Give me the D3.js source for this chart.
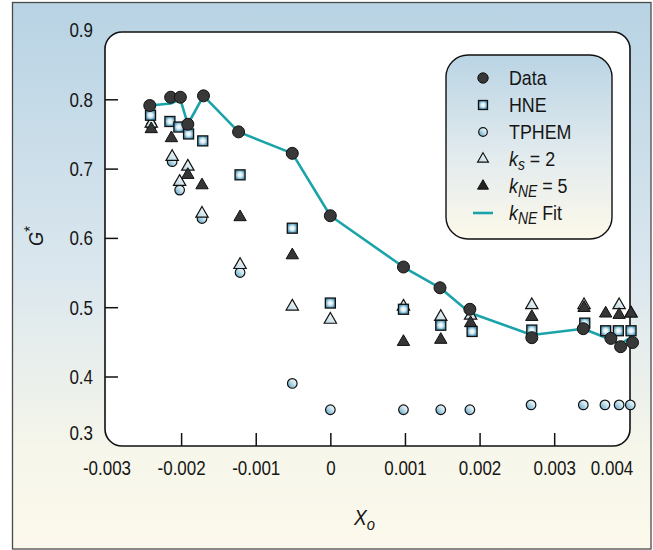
<!DOCTYPE html>
<html>
<head>
<meta charset="utf-8">
<script src="https://cdn.jsdelivr.net/npm/d3@7"></script>
<style>
  body { margin: 0; background: #fff; }
  svg text { font-family: "Liberation Sans", Arial, sans-serif; fill: #161616; }
</style>
</head>
<body>
<div id="wrapper"></div>
<script>
// tick values / labels
const xTicks = [-0.003, -0.002, -0.001, 0, 0.001, 0.002, 0.003, 0.004];
const xTickLabels = ["-0.003", "-0.002", "-0.001", "0", "0.001", "0.002", "0.003", "0.004"];
const yTicks = [0.3, 0.4, 0.5, 0.6, 0.7, 0.8, 0.9];
const yTickLabels = ["0.3", "0.4", "0.5", "0.6", "0.7", "0.8", "0.9"];

// Data (filled circles) and the kNE fit line
const dataX = [-0.00242, -0.00214, -0.00201, -0.00191, -0.0017, -0.00123, -0.00051, 0, 0.00098, 0.00147, 0.00187, 0.0027, 0.00339, 0.00376, 0.00389, 0.00405];
const dataG = [0.791, 0.803, 0.803, 0.764, 0.805, 0.753, 0.722, 0.632, 0.558, 0.528, 0.497, 0.456, 0.469, 0.455, 0.443, 0.449];
const fitG  = [0.791, 0.794, 0.800, 0.764, 0.805, 0.753, 0.722, 0.632, 0.558, 0.528, 0.492, 0.460, 0.469, 0.453, 0.447, 0.458];

// HNE (squares)
const hneX = [-0.00241, -0.00215, -0.00203, -0.0019, -0.00171, -0.00121, -0.00051, 0, 0.00098, 0.00148, 0.0019, 0.0027, 0.00341, 0.00369, 0.00386, 0.00403];
const hneG = [0.777, 0.768, 0.760, 0.750, 0.740, 0.691, 0.614, 0.506, 0.497, 0.474, 0.465, 0.467, 0.477, 0.466, 0.466, 0.466];

// TPHEM (small circles)
const tphemX = [-0.0024, -0.00212, -0.00202, -0.00172, -0.00121, -0.00051, 0, 0.00098, 0.00148, 0.00187, 0.00269, 0.00339, 0.00368, 0.00387, 0.00402];
const tphemG = [0.762, 0.710, 0.669, 0.628, 0.550, 0.390, 0.352, 0.352, 0.352, 0.352, 0.359, 0.359, 0.359, 0.359, 0.359];

// ks = 2 (open triangles)
const ksX = [-0.0024, -0.00212, -0.00202, -0.00191, -0.00172, -0.00121, -0.00051, 0, 0.00098, 0.00148, 0.00188, 0.0027, 0.0034, 0.00387, 0.00403];
const ksG = [0.765, 0.717, 0.681, 0.703, 0.635, 0.561, 0.501, 0.482, 0.501, 0.486, 0.488, 0.503, 0.503, 0.503, 0.491];

// kNE = 5 (filled triangles)
const kneX = [-0.0024, -0.00213, -0.00191, -0.00172, -0.00121, -0.00051, 0.00098, 0.00148, 0.00188, 0.0027, 0.0034, 0.00369, 0.00387, 0.00403];
const kneG = [0.757, 0.744, 0.691, 0.676, 0.630, 0.575, 0.450, 0.453, 0.477, 0.486, 0.499, 0.491, 0.489, 0.491];

const legendItems = ["Data", "HNE", "TPHEM", "ks", "kne", "fit"];

// the original uses a condensed face; squeeze the regular one horizontally
const squeeze = 0.87;
function condense(sel, extra) {
    sel.each(function () {
        const t = d3.select(this);
        const x = +(t.attr("x") || 0);
        t.attr("x", x / squeeze)
         .attr("transform", (extra || "") + ` scale(${squeeze},1)`);
    });
}

function drawChart() {
    const width = 653, height = 550;
    const box = { left: 105, right: 630, top: 32, bottom: 446 };

    const svg = d3.select("#wrapper")
        .html("")
        .append("svg")
        .attr("width", width)
        .attr("height", height);

    const defs = svg.append("defs");
    const bg = defs.append("linearGradient").attr("id", "bg")
        .attr("x1", 0).attr("y1", 0).attr("x2", 0).attr("y2", 1);
    bg.append("stop").attr("offset", "0%").attr("stop-color", "#b8d3e4");
    bg.append("stop").attr("offset", "50%").attr("stop-color", "#dbe7ee");
    bg.append("stop").attr("offset", "82%").attr("stop-color", "#f6f6ea");
    bg.append("stop").attr("offset", "100%").attr("stop-color", "#fcf9ec");

    const lg = defs.append("linearGradient").attr("id", "lg")
        .attr("x1", 0).attr("y1", 0).attr("x2", 0).attr("y2", 1);
    lg.append("stop").attr("offset", "0%").attr("stop-color", "#bad4e4");
    lg.append("stop").attr("offset", "55%").attr("stop-color", "#e2ebee");
    lg.append("stop").attr("offset", "100%").attr("stop-color", "#fdf9ea");

    const mk = defs.append("linearGradient").attr("id", "mk")
        .attr("x1", 0).attr("y1", 1).attr("x2", 1).attr("y2", 0);
    mk.append("stop").attr("offset", "0%").attr("stop-color", "#4f9cbf");
    mk.append("stop").attr("offset", "60%").attr("stop-color", "#cfe6ef");
    mk.append("stop").attr("offset", "100%").attr("stop-color", "#ffffff");

    const sq = defs.append("radialGradient").attr("id", "sq");
    sq.append("stop").attr("offset", "0%").attr("stop-color", "#ffffff");
    sq.append("stop").attr("offset", "45%").attr("stop-color", "#d8ecf3");
    sq.append("stop").attr("offset", "100%").attr("stop-color", "#4a95b8");

    const tri = defs.append("linearGradient").attr("id", "tri")
        .attr("x1", 0).attr("y1", 1).attr("x2", 1).attr("y2", 0);
    tri.append("stop").attr("offset", "0%").attr("stop-color", "#b9d6e0");
    tri.append("stop").attr("offset", "100%").attr("stop-color", "#ffffff");

    // outer frame
    svg.append("rect")
        .attr("x", 12.5).attr("y", 2.5)
        .attr("width", 638.5).attr("height", 546.5)
        .attr("fill", "url(#bg)")
        .attr("stroke", "#4a4a4a")
        .attr("stroke-width", 1.3);

    // plot box
    svg.append("rect")
        .attr("x", box.left).attr("y", box.top)
        .attr("width", box.right - box.left).attr("height", box.bottom - box.top)
        .attr("rx", 17)
        .attr("fill", "#fff")
        .attr("stroke", "#111")
        .attr("stroke-width", 1.6);

    const xScaler = d3.scaleLinear()
        .domain([-0.003, 0.004])
        .range([106.5, 628.8]);
    const yScaler = d3.scaleLinear()
        .domain([0.3, 0.9])
        .range([445.8, 30]);

    // y axis
    const yAxisGen = d3.axisLeft(yScaler)
        .tickValues(yTicks)
        .tickFormat((d, i) => yTickLabels[i])
        .tickSizeInner(-13)
        .tickSizeOuter(0)
        .tickPadding(12);
    const yAxis = svg.append("g")
        .attr("transform", `translate(${box.left},0)`)
        .call(yAxisGen);
    yAxis.select(".domain").remove();
    yAxis.selectAll("line").attr("stroke", "#111").attr("stroke-width", 1.5)
        .filter(d => d === 0.3 || d === 0.9).remove();
    yAxis.selectAll("text")
        .attr("font-size", 19.5)
        .attr("font-family", null)
        .attr("dy", d => d === 0.3 ? "-0.3em" : "0.35em")
        .call(condense);

    // x axis
    const xAxisGen = d3.axisBottom(xScaler)
        .tickValues(xTicks)
        .tickFormat((d, i) => xTickLabels[i])
        .tickSizeInner(-13)
        .tickSizeOuter(0)
        .tickPadding(15);
    const xAxis = svg.append("g")
        .attr("transform", `translate(0,${box.bottom})`)
        .call(xAxisGen);
    xAxis.select(".domain").remove();
    xAxis.selectAll("line").attr("stroke", "#111").attr("stroke-width", 1.5)
        .filter(d => d === -0.003 || d === 0.004).remove();
    xAxis.selectAll("text")
        .attr("font-size", 19.5)
        .attr("font-family", null)
        .filter(d => d === 0.004)
        .attr("text-anchor", "end")
        .attr("x", 4);
    xAxis.selectAll("text").call(condense);

    // axis titles
    svg.append("text")
        .attr("text-anchor", "middle")
        .attr("font-size", 21)
        .call(t => {
            t.append("tspan").attr("font-style", "italic").text("G");
            t.append("tspan").attr("dy", -7).attr("font-size", 17).text("*");
        })
        .call(condense, "translate(43,236) rotate(-90)");
    svg.append("text")
        .attr("x", 354)
        .attr("y", 525)
        .attr("font-size", 22)
        .attr("font-style", "italic")
        .call(t => {
            t.append("tspan").text("X");
            t.append("tspan").attr("dy", 5).attr("font-size", 17).text("o");
        })
        .call(condense);

    // fit line
    const line = d3.line()
        .x((d, i) => xScaler(dataX[i]))
        .y(d => yScaler(d));
    svg.append("path")
        .datum(fitG)
        .attr("d", line)
        .attr("fill", "none")
        .attr("stroke", "#1ba3aa")
        .attr("stroke-width", 2.6)
        .attr("stroke-linejoin", "round");

    const triUp = d3.symbol().type(d3.symbolTriangle).size(66);

    // TPHEM
    svg.append("g").selectAll("circle")
        .data(tphemG).join("circle")
        .attr("cx", (d, i) => xScaler(tphemX[i]))
        .attr("cy", d => yScaler(d))
        .attr("r", 4.8)
        .attr("fill", "url(#mk)")
        .attr("stroke", "#111")
        .attr("stroke-width", 1.2);

    // ks = 2
    svg.append("g").selectAll("path")
        .data(ksG).join("path")
        .attr("d", triUp)
        .attr("transform", (d, i) => `translate(${xScaler(ksX[i])},${yScaler(d)})`)
        .attr("fill", "url(#tri)")
        .attr("stroke", "#111")
        .attr("stroke-width", 1.2);

    // kNE = 5
    svg.append("g").selectAll("path")
        .data(kneG).join("path")
        .attr("d", triUp)
        .attr("transform", (d, i) => `translate(${xScaler(kneX[i])},${yScaler(d)})`)
        .attr("fill", "#363636")
        .attr("stroke", "#111")
        .attr("stroke-width", 1);

    // HNE
    svg.append("g").selectAll("rect")
        .data(hneG).join("rect")
        .attr("x", (d, i) => xScaler(hneX[i]) - 5)
        .attr("y", d => yScaler(d) - 5)
        .attr("width", 10).attr("height", 10)
        .attr("fill", "url(#sq)")
        .attr("stroke", "#111")
        .attr("stroke-width", 1.3);

    // Data
    svg.append("g").selectAll("circle")
        .data(dataG).join("circle")
        .attr("cx", (d, i) => xScaler(dataX[i]))
        .attr("cy", d => yScaler(d))
        .attr("r", 6)
        .attr("fill", "#383838")
        .attr("stroke", "#111")
        .attr("stroke-width", 1);

    // legend
    const legend = svg.append("g");
    legend.append("rect")
        .attr("x", 446).attr("y", 55)
        .attr("width", 166).attr("height", 184)
        .attr("rx", 22)
        .attr("fill", "url(#lg)")
        .attr("stroke", "#111")
        .attr("stroke-width", 1.4);

    const symX = 483, textX = 509;
    const rows = legend.selectAll("g.item")
        .data(legendItems).join("g")
        .attr("class", "item")
        .attr("transform", (d, i) => `translate(0,${78 + i * 27})`);

    rows.each(function (d) {
        const g = d3.select(this);
        if (d === "Data") {
            g.append("circle").attr("cx", symX).attr("r", 5.2)
                .attr("fill", "#383838").attr("stroke", "#111");
        } else if (d === "HNE") {
            g.append("rect").attr("x", symX - 4.5).attr("y", -4.5)
                .attr("width", 9).attr("height", 9)
                .attr("fill", "url(#sq)").attr("stroke", "#111").attr("stroke-width", 1.3);
        } else if (d === "TPHEM") {
            g.append("circle").attr("cx", symX).attr("r", 4.3)
                .attr("fill", "url(#mk)").attr("stroke", "#111").attr("stroke-width", 1.2);
        } else if (d === "ks") {
            g.append("path").attr("d", d3.symbol().type(d3.symbolTriangle).size(52))
                .attr("transform", `translate(${symX},0)`)
                .attr("fill", "url(#tri)").attr("stroke", "#111").attr("stroke-width", 1.1);
        } else if (d === "kne") {
            g.append("path").attr("d", d3.symbol().type(d3.symbolTriangle).size(52))
                .attr("transform", `translate(${symX},0)`)
                .attr("fill", "#222").attr("stroke", "#111");
        } else {
            g.append("line").attr("x1", symX - 10).attr("x2", symX + 10)
                .attr("stroke", "#1ba3aa").attr("stroke-width", 2.6);
        }

        const t = g.append("text")
            .attr("x", textX)
            .attr("dy", "0.36em")
            .attr("font-size", 20.5);
        if (d === "Data" || d === "HNE" || d === "TPHEM") {
            t.text(d);
        } else if (d === "ks") {
            t.append("tspan").attr("font-style", "italic").text("k");
            t.append("tspan").attr("font-style", "italic").attr("font-size", 16).attr("dy", 4).text("s");
            t.append("tspan").attr("dy", -4).text(" = 2");
        } else if (d === "kne") {
            t.append("tspan").attr("font-style", "italic").text("k");
            t.append("tspan").attr("font-style", "italic").attr("font-size", 16).attr("dy", 4).text("NE");
            t.append("tspan").attr("dy", -4).text(" = 5");
        } else {
            t.append("tspan").attr("font-style", "italic").text("k");
            t.append("tspan").attr("font-style", "italic").attr("font-size", 16).attr("dy", 4).text("NE");
            t.append("tspan").attr("dy", -4).text(" Fit");
        }
        t.call(condense);
    });
}

drawChart();
</script>
</body>
</html>
